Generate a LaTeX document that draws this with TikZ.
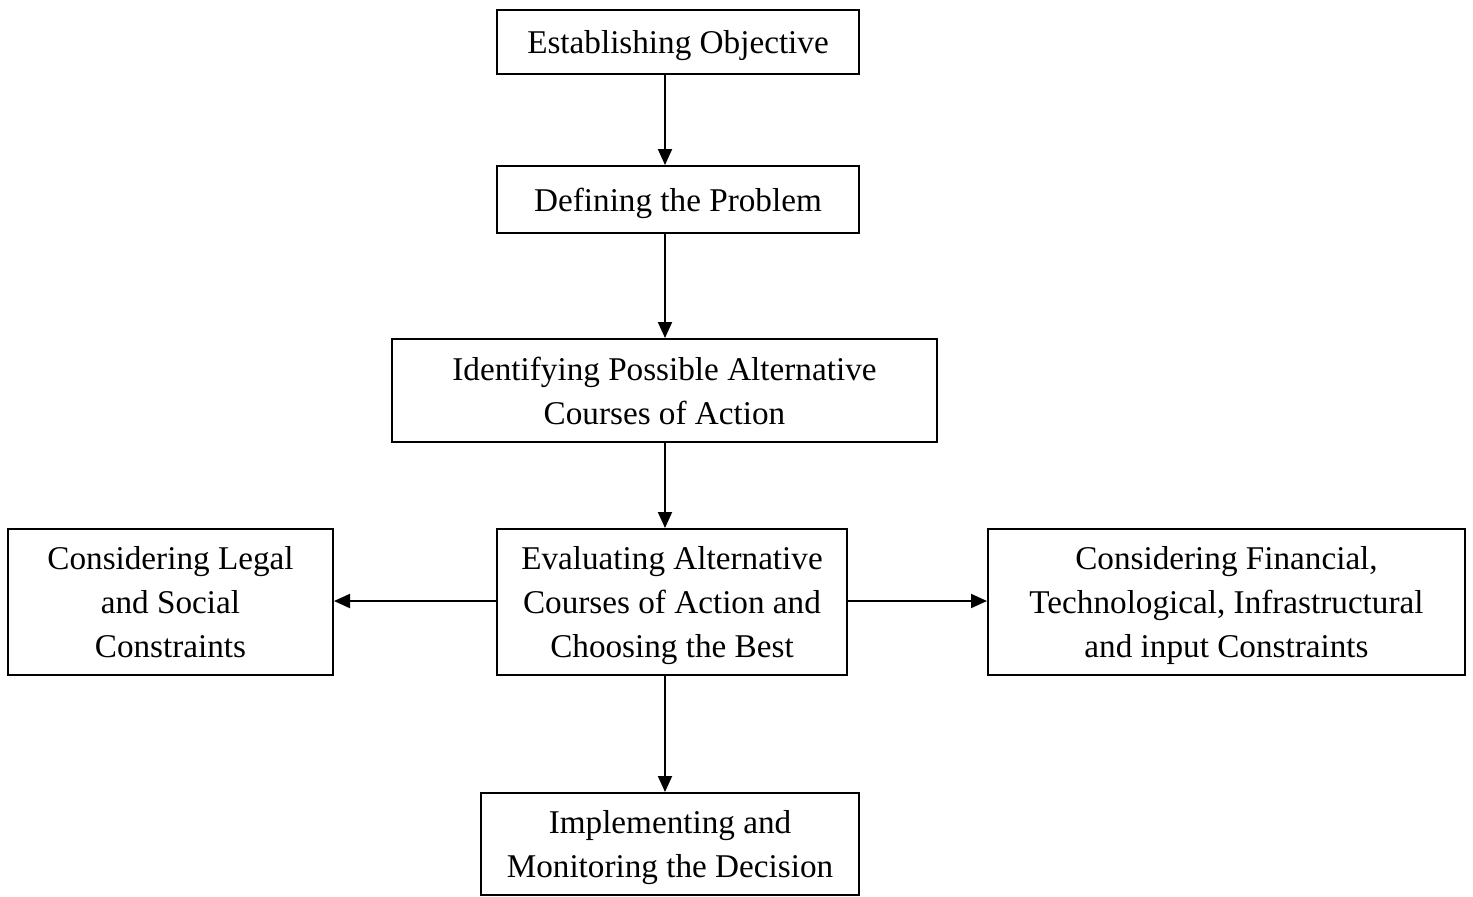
\documentclass[tikz,border=0pt]{standalone}
\usepackage{fontspec}
\setmainfont{Liberation Serif}
\usetikzlibrary{arrows.meta}
\begin{document}
\begin{tikzpicture}[x=0.5pt,y=-0.5pt,
  box/.style={draw,line width=1pt,align=center,inner sep=0pt,text depth=0pt,
    font=\fontsize{16.6}{22}\selectfont},
  arr/.style={line width=1pt,-{Triangle[length=8pt,width=7pt]}}]
\useasboundingbox (0,0) rectangle (1473,896);
\node[box,minimum width=181pt,minimum height=32pt] (b1) at (678,42) {Establishing Objective};
\node[box,minimum width=181pt,minimum height=33.5pt] (b2) at (678,199.5) {Defining the Problem};
\node[box,minimum width=272.5pt,minimum height=51.5pt] (b3) at (664.5,390.5) {Identifying Possible Alternative\\Courses of Action};
\node[box,minimum width=175pt,minimum height=73pt] (b4) at (672,602) {Evaluating Alternative\\Courses of Action and\\Choosing the Best};
\node[box,minimum width=162.5pt,minimum height=73pt] (bl) at (170.5,602) {Considering Legal\\and Social\\Constraints};
\node[box,minimum width=238.5pt,minimum height=73pt] (br) at (1226.5,602) {Considering Financial,\\Technological, Infrastructural\\and input Constraints};
\node[box,minimum width=189pt,minimum height=51pt] (b5) at (670,844) {Implementing and\\Monitoring the Decision};
\coordinate (ax) at (665,0);
\coordinate (ay) at (0,601);
\draw[arr] (b1.south -| ax) -- (b2.north -| ax);
\draw[arr] (b2.south -| ax) -- (b3.north -| ax);
\draw[arr] (b3.south -| ax) -- (b4.north -| ax);
\draw[arr] (b4.south -| ax) -- (b5.north -| ax);
\draw[arr] (b4.west |- ay) -- (bl.east |- ay);
\draw[arr] (b4.east |- ay) -- (br.west |- ay);
\end{tikzpicture}
\end{document}
